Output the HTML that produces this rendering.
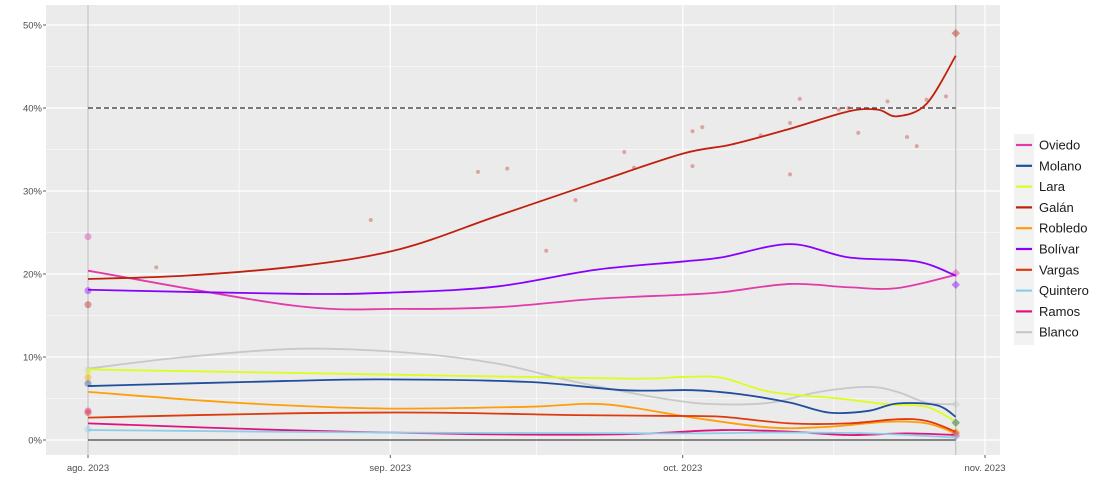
<!DOCTYPE html>
<html><head><meta charset="utf-8"><style>
body{margin:0;background:#fff;font-family:"Liberation Sans",sans-serif}
svg text{font-family:"Liberation Sans",sans-serif}
</style></head><body>
<svg id="c" width="1100" height="489"></svg>
<script>
const yTicks=[0,10,20,30,40,50];
const yTickLabels=["0%","10%","20%","30%","40%","50%"];
const xTickDays=[0,31,61,92];
const xTickLabels=["ago. 2023","sep. 2023","oct. 2023","nov. 2023"];
const threshold=40;
const electionDay=89;
const seriesNames=["Oviedo","Molano","Lara","Galán","Robledo","Bolívar","Vargas","Quintero","Ramos","Blanco"];
const seriesColors=["#e33aaa","#1f4e9c","#d9ff1a","#c0200e","#ff9d0a","#8800ff","#dd3a0e","#8ecde8","#e0137e","#c8c8c8"];
const oviedo=[[0,20.4],[21,16.2],[32,15.8],[42,16],[52,17],[61,17.5],[65,17.8],[72,18.8],[78,18.4],[83,18.3],[89,19.9]];
const molano=[[0,6.5],[20,7.1],[30,7.3],[45,7.0],[55,6.0],[62,6.0],[67,5.5],[72,4.5],[76,3.3],[80,3.5],[83,4.4],[87,4.2],[89,2.8]];
const lara=[[0,8.5],[30,7.9],[55,7.4],[61,7.6],[65,7.5],[70,5.8],[77,5.0],[82,4.3],[86,4.0],[89,2.2]];
const galan=[[0,19.4],[10,19.8],[22,21],[32,23],[42,27],[52,31],[61,34.5],[66,35.6],[72,37.5],[78,39.6],[81,39.8],[83,39],[86,40.5],[89,46.3]];
const robledo=[[0,5.8],[15,4.5],[30,3.8],[45,4.0],[53,4.3],[62,2.7],[70,1.5],[76,1.6],[82,2.2],[86,2.0],[89,0.8]];
const bolivar=[[0,18.1],[22,17.6],[32,17.8],[42,18.5],[52,20.5],[61,21.5],[65,22],[72,23.6],[78,22],[85,21.5],[89,19.8]];
const vargas=[[0,2.7],[20,3.2],[35,3.3],[50,3.0],[60,2.9],[65,2.8],[72,2.0],[78,2.0],[83,2.5],[86,2.3],[89,1.0]];
const quintero=[[0,1.2],[30,0.9],[60,0.8],[70,0.9],[80,0.8],[89,0.3]];
const ramos=[[0,2.0],[20,1.2],[40,0.7],[55,0.7],[65,1.2],[72,1.0],[78,0.6],[84,0.8],[89,0.6]];
const blanco=[[0,8.6],[10,10],[22,11],[33,10.5],[42,9.2],[50,7],[60,4.8],[65,4.3],[70,4.5],[75,5.8],[80,6.4],[83,5.8],[86,4.5],[89,4.3]];
const galanPolls=[[7,20.8],[29,26.5],[40,32.3],[43,32.7],[47,22.8],[50,28.9],[55,34.7],[56,32.8],[62,33],[62,37.2],[63,37.7],[69,36.7],[72,38.2],[72,32],[73,41.1],[77,39.8],[78,40],[79,37],[82,40.8],[84,36.5],[85,35.4],[86,41],[88,41.4]];
const electionResults=[20.1,2.1,2.0,49.0,1.0,18.7,0.8,0.4,0.5,4.3];
const startPolls=[24.5,6.8,8.0,16.3,7.5,18.0,3.3,1.3,3.5,8.5];
</script>
<script>
const svg=document.getElementById('c');const NS="http://www.w3.org/2000/svg";
const L=46,R=1000,T=5,B=455;
const x=d=>88+d*(985-88)/92;
const y=v=>440-v*8.3;
function mk(t,a,p){const e=document.createElementNS(NS,t);for(const k in a)e.setAttribute(k,a[k]);(p||svg).appendChild(e);return e;}
const bg=mk('rect',{x:L,y:T,width:R-L,height:B-T,fill:'#ebebeb'});


for(let i=0;i<yTicks.length-1;i++){mk('line',{x1:L,x2:R,y1:y(yTicks[i]+5),y2:y(yTicks[i]+5),stroke:'#fff','stroke-width':0.6});}
for(let i=0;i<xTickDays.length-1;i++){const m=(xTickDays[i]+xTickDays[i+1])/2;mk('line',{x1:x(m),x2:x(m),y1:T,y2:B,stroke:'#fff','stroke-width':0.6});}
yTicks.forEach((v,i)=>{mk('line',{x1:L,x2:R,y1:y(v),y2:y(v),stroke:'#fff','stroke-width':1.2});
const t=mk('text',{x:42,y:y(v)+3.5,'text-anchor':'end','font-size':9.5,fill:'#4d4d4d'});t.textContent=yTickLabels[i];


mk('line',{x1:43,x2:46,y1:y(v),y2:y(v),stroke:'#333','stroke-width':0.8});});
xTickDays.forEach((d,i)=>{mk('line',{x1:x(d),x2:x(d),y1:T,y2:B,stroke:'#fff','stroke-width':1.2});
mk('line',{x1:x(d),x2:x(d),y1:B,y2:B+3,stroke:'#333','stroke-width':0.8});
const t=mk('text',{x:x(d),y:471,'text-anchor':'middle','font-size':9.5,fill:'#4d4d4d'});t.textContent=xTickLabels[i];

});
mk('line',{x1:x(0),x2:x(0),y1:T,y2:B,stroke:'#bbb','stroke-width':1});
mk('line',{x1:x(electionDay),x2:x(electionDay),y1:T,y2:B,stroke:'#bbb','stroke-width':1});
mk('line',{x1:x(0),x2:x(electionDay),y1:y(0),y2:y(0),stroke:'#444','stroke-width':1.3});
const th=mk('line',{x1:x(0),x2:x(electionDay),y1:y(threshold),y2:y(threshold),stroke:'#333','stroke-width':1.3,'stroke-dasharray':'5,3'});


galanPolls.forEach(p=>{const c=mk('circle',{cx:x(p[0]),cy:y(p[1]),r:2,fill:seriesColors[3],opacity:0.35});

});
function path(pts){const P=pts.map(p=>[x(p[0]),y(p[1])]);let d='M'+P[0][0]+','+P[0][1];
for(let i=0;i<P.length-1;i++){const p0=P[i-1]||P[i],p1=P[i],p2=P[i+1],p3=P[i+2]||p2;
d+=` C${p1[0]+(p2[0]-p0[0])/6},${p1[1]+(p2[1]-p0[1])/6} ${p2[0]-(p3[0]-p1[0])/6},${p2[1]-(p3[1]-p1[1])/6} ${p2[0]},${p2[1]}`;}return d;}
const all=[oviedo,molano,lara,galan,robledo,bolivar,vargas,quintero,ramos,blanco];
const order=[9,2,1,4,6,8,7,0,5,3];
order.forEach(i=>{
const s=mk('circle',{cx:x(0),cy:y(startPolls[i]),r:3.5,fill:seriesColors[i],opacity:0.4});


const e=mk('rect',{x:x(electionDay)-3,y:y(electionResults[i])-3,width:6,height:6,fill:seriesColors[i],opacity:0.45,transform:`rotate(45 ${x(electionDay)} ${y(electionResults[i])})`});


const p=mk('path',{d:path(all[i]),fill:'none',stroke:seriesColors[i],'stroke-width':1.8});

});
const lg=mk('g',{});


mk('rect',{x:1014,y:134,width:20,height:211,fill:'#f2f2f2'},lg);
seriesNames.forEach((n,i)=>{const yy=145+i*20.8;
mk('line',{x1:1016,x2:1032,y1:yy,y2:yy,stroke:seriesColors[i],'stroke-width':2.2},lg);
const t=mk('text',{x:1039,y:yy+4.5,'font-size':13,fill:'#1a1a1a'},lg);t.textContent=n;

});
</script>
</body></html>
